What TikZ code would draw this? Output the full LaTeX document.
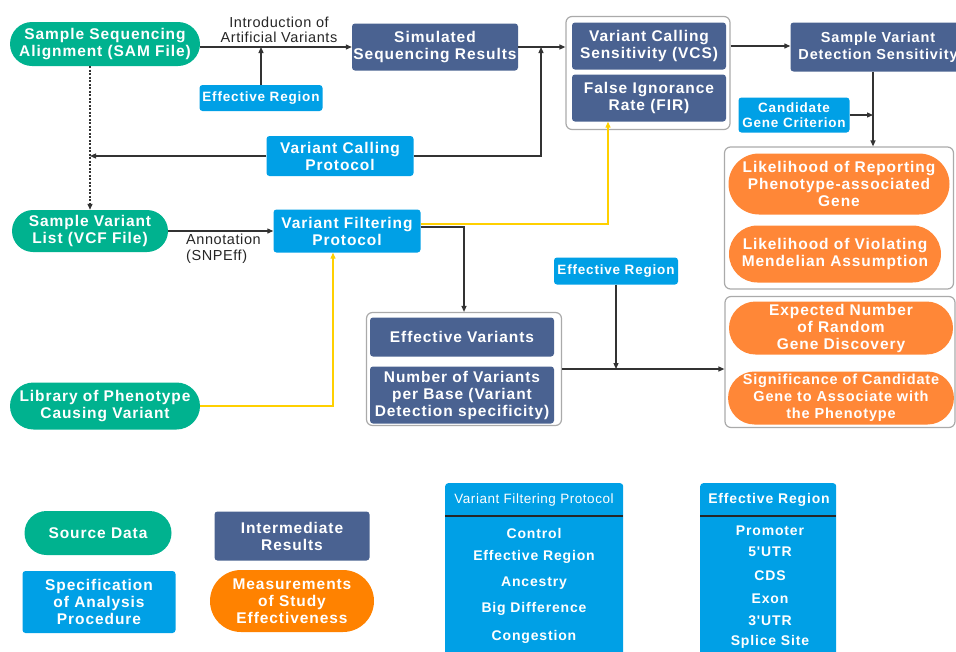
\documentclass[tikz,border=0pt]{standalone}
\usepackage{fontspec}
\setmainfont{Liberation Sans}
\newfontfamily\boxfont{Liberation Sans Bold}[LetterSpace=6]
\newfontfamily\itemfont{Liberation Sans Bold}[LetterSpace=6]
\newfontfamily\labfont{Liberation Sans}[LetterSpace=4]
\usetikzlibrary{shapes.misc,arrows.meta,positioning}

\definecolor{srcgreen}{RGB}{0,178,143}
\definecolor{specblue}{RGB}{0,160,230}
\definecolor{midblue}{RGB}{74,98,145}
\definecolor{measorange}{RGB}{255,135,55}
\definecolor{legorange}{RGB}{255,130,0}
\definecolor{linkyellow}{RGB}{255,208,0}
\definecolor{grpgray}{RGB}{170,170,170}

\begin{document}
\begin{tikzpicture}[x = 1pt, y = -1pt,
    every node/.style = {inner sep = 0pt, align = center, text = white,
        font = \boxfont\fontsize{15.5}{17}\selectfont},
    src/.style = {rounded rectangle, fill = srcgreen},
    spec/.style = {rounded corners = 3pt, fill = specblue},
    specsmall/.style = {spec, font = \itemfont\fontsize{13.5}{15.5}\selectfont},
    mid/.style = {rounded corners = 3pt, fill = midblue},
    meas/.style = {rounded rectangle, fill = measorange},
    grp/.style = {draw = grpgray, rounded corners = 6pt, line width = 1.2pt},
    lab/.style = {text = black!85, font = \labfont\fontsize{14.5}{15.5}\selectfont},
    item/.style = {font = \itemfont\fontsize{14}{15}\selectfont},
    tight/.style = {font = \boxfont\fontsize{14.5}{17}\selectfont},
    arr/.style = {-{Triangle[length = 6pt, width = 5pt]}, line width = 1.2pt, draw = black!80},
    yarr/.style = {arr, draw = linkyellow}]
    \useasboundingbox (0,0) rectangle (956,651);

    % source data
    \node[src, minimum width = 190, minimum height = 44] (sam) at (105,44)
        {Sample Sequencing\\Alignment (SAM File)};
    \node[src, minimum width = 156, minimum height = 42] (svl) at (90,231)
        {Sample Variant\\List (VCF File)};
    \node[src, minimum width = 190, minimum height = 47] (lib) at (105,406)
        {Library of Phenotype\\Causing Variant};

    % specifications
    \node[specsmall, minimum width = 123, minimum height = 26] (effA) at (261,98) {Effective Region};
    \node[spec, minimum width = 147, minimum height = 40] (vcp) at (340,156)
        {Variant Calling\\Protocol};
    \node[spec, minimum width = 147, minimum height = 43] (vfp) at (347,231)
        {Variant Filtering\\Protocol};
    \node[specsmall, minimum width = 111, minimum height = 35] (cgc) at (794,115)
        {Candidate\\Gene Criterion};
    \node[specsmall, minimum width = 124, minimum height = 27] (effB) at (616,271) {Effective Region};

    % intermediate results
    \node[mid, minimum width = 166, minimum height = 47] (sim) at (435,47)
        {Simulated\\Sequencing Results};
    \node[grp, minimum width = 164, minimum height = 113] (grpA) at (648,73) {};
    \node[mid, minimum width = 154, minimum height = 47] (vcs) at (649,46)
        {Variant Calling\\Sensitivity (VCS)};
    \node[mid, minimum width = 154, minimum height = 47] (fir) at (649,98)
        {False Ignorance\\Rate (FIR)};
    \node[mid, tight, minimum width = 175, minimum height = 49] (svds) at (878,47)
        {Sample Variant\\Detection Sensitivity};
    \node[grp, minimum width = 195, minimum height = 113] (grpC) at (464,369) {};
    \node[mid, minimum width = 184, minimum height = 39] (effv) at (462,337) {Effective Variants};
    \node[mid, minimum width = 184, minimum height = 57] (numv) at (462,395)
        {Number of Variants\\per Base (Variant\\Detection specificity)};

    % measurements
    \node[grp, minimum width = 229, minimum height = 142] (grpD) at (839,218) {};
    \node[meas, minimum width = 221, minimum height = 61] (likR) at (839,184)
        {Likelihood of Reporting\\Phenotype-associated\\Gene};
    \node[meas, minimum width = 212, minimum height = 57] (likV) at (835,254)
        {Likelihood of Violating\\Mendelian Assumption};
    \node[grp, minimum width = 230, minimum height = 131] (grpE) at (840,362) {};
    \node[meas, minimum width = 224, minimum height = 53] (expn) at (841,328)
        {Expected Number\\of Random\\Gene Discovery};
    \node[meas, tight, minimum width = 224, minimum height = 53] (sigc) at (841,398)
        {Significance of Candidate\\Gene to Associate with\\the Phenotype};

    % connectors
    \draw[arr] (sam.east |- sim.west) -- (sim.west);
    \node[lab] (intro) at (279,30) {Introduction of\\Artificial Variants};
    \draw[arr] (effA.north) -- (effA.north |- sim.west);
    \draw[arr] (sim.east) -- (sim.east -| grpA.west);
    \coordinate (jv) at (541,47);
    \draw[arr] (vcp.east) -| (jv);
    \draw[arr] (vcp.west) -- (vcp.west -| svl.north);
    \draw[arr, dash pattern = on 2pt off 1.5pt] (svl.north |- sam.south) -- (svl.north);
    \draw[arr] (svl.east) -- (svl.east -| vfp.west);
    \node[lab, anchor = north west, align = left] (annot) at (186,234) {Annotation\\(SNPEff)};
    \draw[arr] ([yshift = 4pt]vfp.east) -| (grpC.north);
    \draw[yarr] ([yshift = 7pt]vfp.east) -| ([xshift = -41pt]fir.south);
    \draw[yarr] (lib.east) -| ([xshift = -14pt]vfp.south);
    \draw[arr] (grpC.east) -- (grpC.east -| grpE.west);
    \draw[arr] (effB.south) -- (effB.south |- grpC.east);
    \draw[arr] (vcs.east -| grpA.east) -- (vcs.east -| svds.west);
    \coordinate (jc) at ([xshift = -5pt]svds.south);
    \draw[arr] (jc) -- (jc |- grpD.north);
    \draw[arr] (cgc.east) -- (cgc.east -| jc);

    % legend
    \node[src, minimum width = 147, minimum height = 44] (legsrc) at (98,533) {Source Data};
    \node[spec, minimum width = 153, minimum height = 62] (legspec) at (99,602)
        {Specification\\of Analysis\\Procedure};
    \node[mid, minimum width = 155, minimum height = 49] (legmid) at (292,536)
        {Intermediate\\Results};
    \node[meas, fill = legorange, minimum width = 164, minimum height = 62] (legmeas) at (292,601)
        {Measurements\\of Study\\Effectiveness};

    % tables
    \node[spec, anchor = north west, minimum width = 178, minimum height = 190] (vfptab) at (445,483) {};
    \node[lab, text = white, font = \labfont\fontsize{13.5}{15}\selectfont] (vfphead) at (534,500)
        {Variant Filtering Protocol};
    \draw[line width = 1.3pt, black!85] ([yshift = -33pt]vfptab.north west) -- ([yshift = -33pt]vfptab.north east);
    \foreach \txt/\yy [count = \i] in {Control/533, Effective Region/557, Ancestry/583,
        Big Difference/609, Congestion/637}
        \node[item] (vfpitem\i) at (534,\yy) {\txt};

    \node[spec, anchor = north west, minimum width = 136, minimum height = 190] (ertab) at (700,483) {};
    \node[item] (erhead) at (769,500) {Effective Region};
    \draw[line width = 1.3pt, black!85] ([yshift = -33pt]ertab.north west) -- ([yshift = -33pt]ertab.north east);
    \foreach \txt/\yy [count = \i] in {Promoter/531, 5'UTR/552, CDS/576, Exon/599,
        3'UTR/621, Splice Site/642}
        \node[item] (eritem\i) at (770,\yy) {\txt};
\end{tikzpicture}
\end{document}
